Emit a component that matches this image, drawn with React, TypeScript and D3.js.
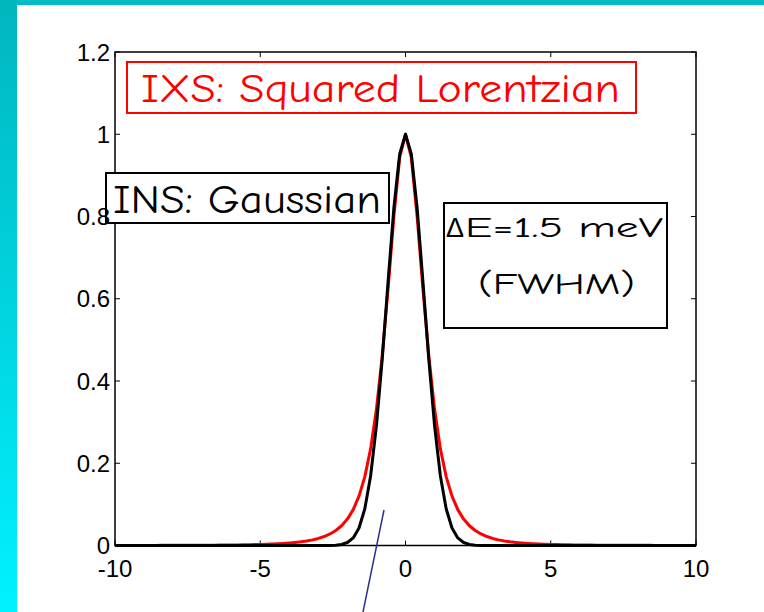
import React from "react";
import * as d3 from "d3";

const xValues = [
  -10, -9.8, -9.6, -9.4, -9.2, -9, -8.8, -8.6, -8.4, -8.2,
  -8, -7.8, -7.6, -7.4, -7.2, -7, -6.8, -6.6, -6.4, -6.2,
  -6, -5.8, -5.6, -5.4, -5.2, -5, -4.8, -4.6, -4.4, -4.2,
  -4, -3.8, -3.6, -3.4, -3.2, -3, -2.8, -2.6, -2.4, -2.2,
  -2, -1.8, -1.6, -1.4, -1.2, -1, -0.8, -0.6, -0.4, -0.2,
  0,
  0.2, 0.4, 0.6, 0.8, 1, 1.2, 1.4, 1.6, 1.8, 2,
  2.2, 2.4, 2.6, 2.8, 3, 3.2, 3.4, 3.6, 3.8, 4,
  4.2, 4.4, 4.6, 4.8, 5, 5.2, 5.4, 5.6, 5.8, 6,
  6.2, 6.4, 6.6, 6.8, 7, 7.2, 7.4, 7.6, 7.8, 8,
  8.2, 8.4, 8.6, 8.8, 9, 9.2, 9.4, 9.6, 9.8, 10,
];

// IXS: squared Lorentzian (red)
const ixsValues = [
  0.0002, 0.0002, 0.0002, 0.0002, 0.0002, 0.0003, 0.0003, 0.0003, 0.0004, 0.0004,
  0.0004, 0.0005, 0.0005, 0.0006, 0.0007, 0.0007, 0.0008, 0.0009, 0.001, 0.0012,
  0.0013, 0.0015, 0.0017, 0.002, 0.0023, 0.0027, 0.0031, 0.0036, 0.0043, 0.0051,
  0.0061, 0.0074, 0.009, 0.0111, 0.0137, 0.0172, 0.0218, 0.028, 0.0364, 0.048,
  0.0642, 0.0872, 0.1201, 0.1675, 0.2355, 0.3317, 0.462, 0.6248, 0.8003, 0.9436,
  1,
  0.9436, 0.8003, 0.6248, 0.462, 0.3317, 0.2355, 0.1675, 0.1201, 0.0872, 0.0642,
  0.048, 0.0364, 0.028, 0.0218, 0.0172, 0.0137, 0.0111, 0.009, 0.0074, 0.0061,
  0.0051, 0.0043, 0.0036, 0.0031, 0.0027, 0.0023, 0.002, 0.0017, 0.0015, 0.0013,
  0.0012, 0.001, 0.0009, 0.0008, 0.0007, 0.0007, 0.0006, 0.0005, 0.0005, 0.0004,
  0.0004, 0.0004, 0.0003, 0.0003, 0.0003, 0.0002, 0.0002, 0.0002, 0.0002, 0.0002,
];

// INS: Gaussian (black)
const insValues = [
  0, 0, 0, 0, 0, 0, 0, 0, 0, 0,
  0, 0, 0, 0, 0, 0, 0, 0, 0, 0,
  0, 0, 0, 0, 0, 0, 0, 0, 0, 0,
  0, 0, 0, 0, 0, 0, 0.0001, 0.0002, 0.0008, 0.0026,
  0.0072, 0.0185, 0.0427, 0.0893, 0.1696, 0.2916, 0.4545, 0.6417, 0.8211, 0.9519,
  1,
  0.9519, 0.8211, 0.6417, 0.4545, 0.2916, 0.1696, 0.0893, 0.0427, 0.0185, 0.0072,
  0.0026, 0.0008, 0.0002, 0.0001, 0, 0, 0, 0, 0, 0,
  0, 0, 0, 0, 0, 0, 0, 0, 0, 0,
  0, 0, 0, 0, 0, 0, 0, 0, 0, 0,
  0, 0, 0, 0, 0, 0, 0, 0, 0, 0,
];

const xTicks = [-10, -5, 0, 5, 10];
const xTickLabels = ["-10", "-5", "0", "5", "10"];
const yTicks = [0, 0.2, 0.4, 0.6, 0.8, 1, 1.2];
const yTickLabels = ["0", "0.2", "0.4", "0.6", "0.8", "1", "1.2"];

const annotIXS = "IXS: Squared Lorentzian";
const annotINS = "INS: Gaussian";
const annotDelta = "\u0394";
const annotDE1 = "E=1.5 meV";
const annotDE2 = "(FWHM)";

const comic = "'Comic Sans MS', 'Comic Neue', 'DejaVu Sans', sans-serif";
const arial = "'Liberation Sans', Arial, sans-serif";

export default function App() {
  const W = 764;
  const H = 612;
  const left = 115;
  const right = 696;
  const top = 52;
  const bottom = 545.5;
  const x = d3.scaleLinear().domain([-10, 10]).range([left, right]);
  const y = d3.scaleLinear().domain([0, 1.2]).range([bottom, top]);
  const line = d3
    .line<number>()
    .x((_, i) => x(xValues[i]))
    .y((d) => y(d));
  const tl = 5;

  return (
    <svg
      width={W}
      height={H}
      style={{ position: "fixed", left: 0, top: 0, display: "block" }}
    >
      <defs>
        <linearGradient id="leftband" x1="0" y1="0" x2="0" y2="1">
          <stop offset="0" stopColor="#00B6BF" />
          <stop offset="1" stopColor="#00F2FF" />
        </linearGradient>
      </defs>
      <rect x={0} y={0} width={W} height={H} fill="#ffffff" />
      <rect x={0} y={0} width={W} height={5} fill="#00BDC8" />
      <rect x={0} y={0} width={17} height={H} fill="url(#leftband)" />

      {/* axes box */}
      <rect
        x={left}
        y={top}
        width={right - left}
        height={bottom - top}
        fill="none"
        stroke="#000"
        strokeWidth={1.5}
      />
      {xTicks.map((t) => (
        <g key={"xt" + t}>
          <line x1={x(t)} x2={x(t)} y1={bottom} y2={bottom - tl} stroke="#000" strokeWidth={1} />
          <line x1={x(t)} x2={x(t)} y1={top} y2={top + tl} stroke="#000" strokeWidth={1} />
        </g>
      ))}
      {yTicks.map((t) => (
        <g key={"yt" + t}>
          <line x1={left} x2={left + tl} y1={y(t)} y2={y(t)} stroke="#000" strokeWidth={1} />
          <line x1={right} x2={right - tl} y1={y(t)} y2={y(t)} stroke="#000" strokeWidth={1} />
        </g>
      ))}

      {/* curves */}
      <path d={line(ixsValues) || ""} fill="none" stroke="#ff0000" strokeWidth={3} strokeLinejoin="round" />
      <path d={line(insValues) || ""} fill="none" stroke="#000000" strokeWidth={3} strokeLinejoin="round" />

      {/* annotation boxes */}
      <rect x={127} y={62} width={509} height={51} fill="#fff" stroke="#ff0000" strokeWidth={2} />
      <text
        x={141}
        y={102}
        fill="#ff0000"
        fontFamily={comic}
        fontSize={40}
        textLength={479}
        lengthAdjust="spacingAndGlyphs"
      >
        {annotIXS}
      </text>

      <rect x={106} y={173} width={283} height={50} fill="#fff" stroke="#000" strokeWidth={2} />
      <text
        x={113}
        y={213}
        fill="#000"
        fontFamily={comic}
        fontSize={40}
        textLength={268}
        lengthAdjust="spacingAndGlyphs"
      >
        {annotINS}
      </text>

      <rect x={444} y={203} width={223} height={125} fill="#fff" stroke="#000" strokeWidth={2} />
      <text
        x={446}
        y={237}
        fill="#000"
        fontFamily={arial}
        fontSize={27}
      >
        {annotDelta}
      </text>
      <text
        x={465}
        y={237}
        fill="#000"
        fontFamily={comic}
        fontSize={29}
        textLength={198}
        lengthAdjust="spacingAndGlyphs"
      >
        {annotDE1}
      </text>
      <text
        x={478}
        y={294}
        fill="#000"
        fontFamily={comic}
        fontSize={31}
        textLength={157}
        lengthAdjust="spacingAndGlyphs"
      >
        {annotDE2}
      </text>

      {/* tick labels */}
      {xTicks.map((t, i) => (
        <text
          key={"xl" + t}
          x={x(t)}
          y={577}
          textAnchor="middle"
          fontFamily={arial}
          fontSize={24}
          fill="#000"
        >
          {xTickLabels[i]}
        </text>
      ))}
      {yTicks.map((t, i) => (
        <text
          key={"yl" + t}
          x={110}
          y={y(t)}
          dy="0.36em"
          textAnchor="end"
          fontFamily={arial}
          fontSize={24}
          fill="#000"
        >
          {yTickLabels[i]}
        </text>
      ))}

      {/* pointer line */}
      <line x1={384} y1={510} x2={363} y2={612} stroke="#2E3192" strokeWidth={1.5} />
    </svg>
  );
}
